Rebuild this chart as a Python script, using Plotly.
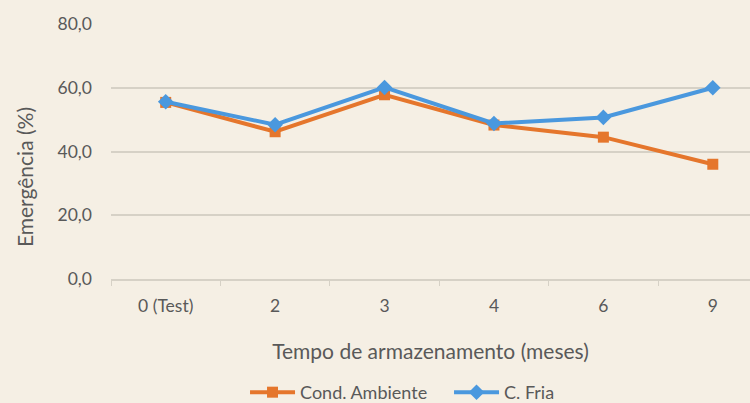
import plotly.graph_objects as go

categories = ["0 (Test)", "2", "3", "4", "6", "9"]
cond_ambiente = [55.4, 46.2, 57.8, 48.3, 44.5, 36.0]
c_fria = [55.6, 48.4, 60.1, 48.8, 50.7, 60.0]
y_ticks = [0, 20, 40, 60, 80]
y_tick_text = ["0,0", "20,0", "40,0", "60,0", "80,0"]

BG = "#F5EFE4"
ORANGE = "#E5762C"
BLUE = "#4A98DE"
GRID = "#D6D1C6"
TXT = "#595959"
FONT = "Lato"

fig = go.Figure()
fig.add_trace(go.Scatter(
    x=categories, y=cond_ambiente, name="Cond. Ambiente", mode="lines+markers",
    line=dict(color=ORANGE, width=4),
    marker=dict(symbol="square", size=11, color=ORANGE),
))
fig.add_trace(go.Scatter(
    x=categories, y=c_fria, name="C. Fria", mode="lines+markers",
    line=dict(color=BLUE, width=4),
    marker=dict(symbol="diamond", size=12, color=BLUE),
))

fig.update_layout(
    width=750, height=403,
    paper_bgcolor=BG, plot_bgcolor=BG,
    margin=dict(l=111, r=0, t=24, b=124, autoexpand=False),
    font=dict(family=FONT, size=17, color=TXT),
    showlegend=True,
    legend=dict(orientation="h", x=0.529, xanchor="center", y=-0.445, yanchor="middle",
                font=dict(size=18, color=TXT), itemwidth=45, bgcolor="rgba(0,0,0,0)",
                entrywidth=144, entrywidthmode="pixels",
                tracegroupgap=0),
    xaxis=dict(
        type="category", range=[-0.5, 5.34],
        showgrid=False, showline=True, linecolor=GRID, linewidth=1.5,
        ticks="outside", tickson="boundaries", ticklen=5, tickcolor=GRID,
        tickfont=dict(size=17.5, color=TXT), ticklabelstandoff=10,
        title=dict(text="Tempo de armazenamento (meses)", font=dict(size=21, color=TXT), standoff=30),
    ),
    yaxis=dict(
        range=[0, 80], tickvals=y_ticks, ticktext=y_tick_text,
        showgrid=True, gridcolor=GRID, gridwidth=1.5,
        zeroline=False, showline=False,
        tickfont=dict(size=17.5, color=TXT), ticks="", ticklabelstandoff=18,
    ),
    annotations=[dict(
        text="Emergência (%)", textangle=-90, xref="paper", yref="paper",
        x=-0.136, y=0.4, xanchor="center", yanchor="middle", showarrow=False,
        font=dict(size=21, color=TXT),
    )],
)

fig.write_html("out.html", config={"displayModeBar": False},
               post_script="document.body.style.margin='0';document.body.style.background='" + BG + "';")
